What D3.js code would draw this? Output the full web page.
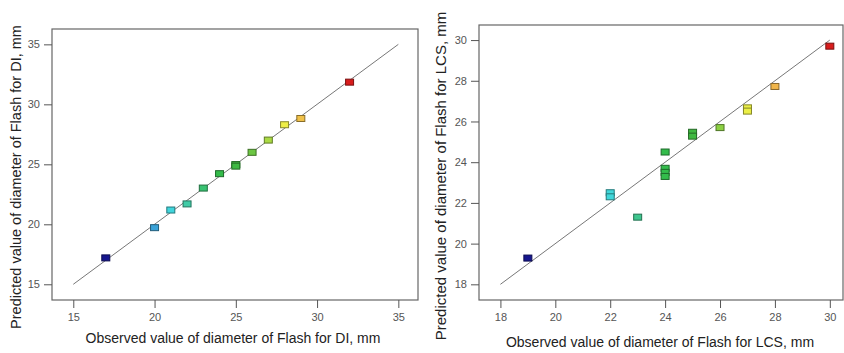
<!DOCTYPE html>
<html>
<head>
<meta charset="utf-8">
<script src="https://cdn.jsdelivr.net/npm/d3@7"></script>
<style>
  body { margin: 0; background: #fff; }
  svg { display: block; font-family: "Liberation Sans", Arial, sans-serif; }
  .tick text { fill: #555; font-size: 11px; }
  .tick line { stroke: #555; }
</style>
</head>
<body>
<svg id="chart" width="844" height="353"></svg>
<script>
// DI panel
var diTicks = [15, 20, 25, 30, 35];
var diObserved  = [17, 20, 21, 22, 23, 24, 25, 25, 26, 27, 28, 29, 32];
var diPredicted = [17.2, 19.72, 21.19, 21.7, 23.02, 24.22, 24.98, 24.85, 26.0, 27.02, 28.3, 28.82, 31.85];

// LCS panel
var lcsTicks = [18, 20, 22, 24, 26, 28, 30];
var lcsObserved  = [19, 22, 22, 23, 24, 24, 24, 24, 25, 25, 26, 27, 27, 28, 30];
var lcsPredicted = [19.29, 22.5, 22.3, 21.3, 24.5, 23.7, 23.5, 23.3, 25.47, 25.28, 25.7, 26.67, 26.51, 27.72, 29.7];

var svg = d3.select("#chart");

// colour ramp used by the software (blue -> cyan -> green -> yellow -> red)
var rampStops = [0, 0.2, 0.27, 0.35, 0.45, 0.55, 0.65, 0.73, 0.82, 1];
var rampColors = ["#16168e", "#3aa2d8", "#40d8dc", "#40c898", "#32bc4c", "#40b840",
                  "#98d444", "#eef046", "#f0b44a", "#d81c1c"];

function panel(cfg) {
  var g = svg.append("g");
  var x = d3.scaleLinear().domain(cfg.xDomain).range([cfg.left, cfg.right]);
  var y = d3.scaleLinear().domain(cfg.yDomain).range([cfg.bottom, cfg.top]);

  var lo = d3.min(cfg.obs), hi = d3.max(cfg.obs);
  var color = d3.scaleLinear()
    .domain(rampStops.map(function(t){ return lo + t * (hi - lo); }))
    .range(rampColors);

  g.append("rect")
    .attr("x", cfg.left).attr("y", cfg.top)
    .attr("width", cfg.right - cfg.left).attr("height", cfg.bottom - cfg.top)
    .attr("fill", "none").attr("stroke", "#666").attr("stroke-width", 1.2);

  var xa = g.append("g")
    .attr("transform", "translate(0," + cfg.bottom + ")")
    .call(d3.axisBottom(x).tickValues(cfg.ticks).tickSize(8).tickPadding(5));
  xa.select(".domain").remove();

  var ya = g.append("g")
    .attr("transform", "translate(" + cfg.left + ",0)")
    .call(d3.axisLeft(y).tickValues(cfg.ticks).tickSize(8).tickPadding(4));
  ya.select(".domain").remove();

  // 1:1 line
  var t0 = cfg.ticks[0], t1 = cfg.ticks[cfg.ticks.length - 1];
  g.append("line")
    .attr("x1", x(t0)).attr("y1", y(t0))
    .attr("x2", x(t1)).attr("y2", y(t1))
    .attr("stroke", "#777").attr("stroke-width", 1);

  var w = 8, h = 6;
  g.selectAll("rect.pt")
    .data(d3.range(cfg.obs.length))
    .enter().append("rect")
    .attr("class", "pt")
    .attr("x", function(i){ return x(cfg.obs[i]) - w / 2; })
    .attr("y", function(i){ return y(cfg.pred[i]) - h / 2; })
    .attr("width", w).attr("height", h)
    .attr("fill", function(i){ return color(cfg.obs[i]); })
    .attr("stroke", function(i){ return d3.color(color(cfg.obs[i])).darker(1.6); })
    .attr("stroke-width", 1);

  g.append("text")
    .attr("x", (cfg.left + cfg.right) / 2 + cfg.xTitleShift)
    .attr("y", cfg.xTitleY)
    .attr("text-anchor", "middle")
    .attr("font-size", 14).attr("fill", "#222")
    .text(cfg.xTitle);

  g.append("text")
    .attr("transform", "translate(" + cfg.yTitleX + "," + cfg.yTitleCy + ") rotate(-90)")
    .attr("text-anchor", "middle")
    .attr("dy", "0.35em")
    .attr("font-size", cfg.yTitleSize).attr("fill", "#222")
    .text(cfg.yTitle);
}

panel({
  left: 52, right: 418, top: 29, bottom: 300,
  xDomain: [13.69, 36.21], yDomain: [13.69, 36.28],
  ticks: diTicks, obs: diObserved, pred: diPredicted,
  xTitle: "Observed value of diameter of Flash for DI, mm",
  yTitle: "Predicted value of diameter of Flash for DI, mm",
  xTitleY: 343, xTitleShift: -2, yTitleX: 16, yTitleCy: 177, yTitleSize: 14.5
});

panel({
  left: 479, right: 843, top: 25, bottom: 300,
  xDomain: [17.22, 30.48], yDomain: [17.23, 30.74],
  ticks: lcsTicks, obs: lcsObserved, pred: lcsPredicted,
  xTitle: "Observed value of diameter of Flash for LCS, mm",
  yTitle: "Predicted value of diameter of Flash for LCS, mm",
  xTitleY: 347, xTitleShift: -1, yTitleX: 441, yTitleCy: 176, yTitleSize: 15
});
</script>
</body>
</html>
